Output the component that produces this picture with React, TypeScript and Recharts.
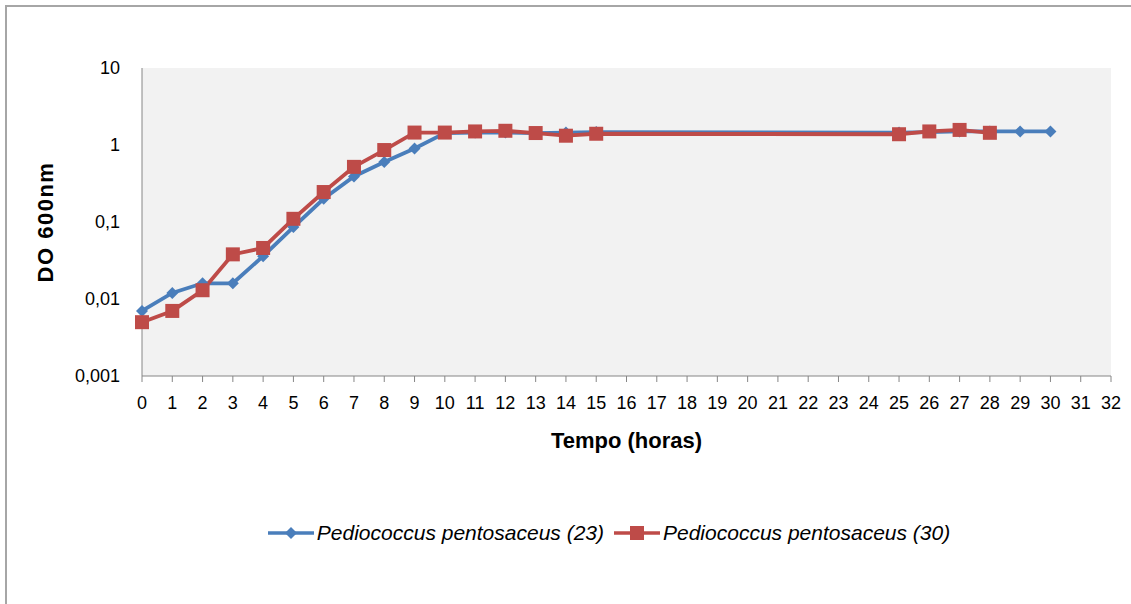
import { LineChart, Line, XAxis, YAxis, CartesianGrid } from 'recharts';

const hours = [0, 1, 2, 3, 4, 5, 6, 7, 8, 9, 10, 11, 12, 13, 14, 15, 25, 26, 27, 28, 29, 30];
const serie23 = [0.007, 0.012, 0.016, 0.016, 0.036, 0.086, 0.2, 0.39, 0.6, 0.9, 1.43, 1.45, 1.45, 1.43, 1.45, 1.47, 1.45, 1.47, 1.5, 1.5, 1.5, 1.5];
const serie30 = [0.005, 0.007, 0.013, 0.038, 0.046, 0.11, 0.245, 0.52, 0.86, 1.45, 1.45, 1.5, 1.53, 1.43, 1.32, 1.4, 1.38, 1.5, 1.57, 1.44, null, null];
const xTicks = [0, 1, 2, 3, 4, 5, 6, 7, 8, 9, 10, 11, 12, 13, 14, 15, 16, 17, 18, 19, 20, 21, 22, 23, 24, 25, 26, 27, 28, 29, 30, 31, 32];
const yTicks = [0.001, 0.01, 0.1, 1, 10];
const names = ['Pediococcus pentosaceus (23)', 'Pediococcus pentosaceus (30)'];

const BLUE = '#4a7ebb';
const RED = '#be4b48';
const FONT = '"Liberation Sans", Arial, sans-serif';

const data = hours.map((h, i) => ({ t: h, a: serie23[i], b: serie30[i] }));

const Diamond = ({ cx, cy }: any) => {
  if (cx == null || cy == null) return null;
  const r = 6;
  return <path d={`M${cx},${cy - r}L${cx + r},${cy}L${cx},${cy + r}L${cx - r},${cy}Z`} fill={BLUE} />;
};

const Square = ({ cx, cy }: any) => {
  if (cx == null || cy == null) return null;
  return <rect x={cx - 7} y={cy - 7} width={14} height={14} fill={RED} />;
};

const LegendItem = ({ color, kind, label }: { color: string; kind: string; label: string }) => (
  <div style={{ display: 'flex', alignItems: 'center', marginRight: 10 }}>
    <svg width={46} height={20}>
      <line x1={0} y1={10} x2={46} y2={10} stroke={color} strokeWidth={3.5} />
      {kind === 'diamond'
        ? <path d="M23,4L29,10L23,16L17,10Z" fill={color} />
        : <rect x={16} y={3} width={14} height={14} fill={color} />}
    </svg>
    <span style={{ fontStyle: 'italic', fontSize: 21, marginLeft: 3 }}>{label}</span>
  </div>
);

export default function App() {
  return (
    <div style={{ position: 'absolute', left: 0, top: 0, width: 1131, height: 604, background: '#fff', fontFamily: FONT, overflow: 'hidden' }}>
      <div style={{ position: 'absolute', left: 5, top: 5, width: 1160, height: 640, border: '2px solid #a6a6a6' }} />
      <div style={{ position: 'absolute', left: 0, top: 0 }}>
        <LineChart width={1131} height={604} data={data} margin={{ top: 68, right: 20, left: 0, bottom: 156 }}>
          <CartesianGrid fill="#f2f2f2" horizontal={false} vertical={false} />
          <XAxis
            dataKey="t"
            type="number"
            domain={[0, 32]}
            ticks={xTicks}
            interval={0}
            height={72}
            stroke="#868686"
            tickSize={6}
            tickMargin={14}
            tick={{ fill: '#000', fontSize: 18, fontFamily: FONT }}
            label={{ value: 'Tempo (horas)', position: 'insideBottom', offset: 0, style: { fontWeight: 'bold', fontSize: 22, fill: '#000', fontFamily: FONT } }}
          />
          <YAxis
            type="number"
            scale="log"
            domain={[0.001, 10]}
            ticks={yTicks}
            allowDataOverflow
            width={142}
            stroke="#868686"
            tickLine={false}
            tickSize={6}
            tickMargin={16}
            tickFormatter={(v: number) => String(v).replace('.', ',')}
            tick={{ fill: '#000', fontSize: 18, fontFamily: FONT }}
            label={{ value: 'DO 600nm', angle: -90, position: 'insideLeft', offset: 45, style: { textAnchor: 'middle', fontWeight: 'bold', fontSize: 22, letterSpacing: 1.5, fill: '#000', fontFamily: FONT } }}
          />
          <Line type="linear" dataKey="a" name={names[0]} stroke={BLUE} strokeWidth={3.8} dot={<Diamond />} activeDot={false} connectNulls isAnimationActive={false} />
          <Line type="linear" dataKey="b" name={names[1]} stroke={RED} strokeWidth={3.8} dot={<Square />} activeDot={false} connectNulls isAnimationActive={false} />
        </LineChart>
      </div>
      <div style={{ position: 'absolute', left: 0, top: 521, width: 1131, display: 'flex', justifyContent: 'center' }}>
        <div style={{ display: 'flex', marginLeft: 97 }}>
          <LegendItem color={BLUE} kind="diamond" label={names[0]} />
          <LegendItem color={RED} kind="square" label={names[1]} />
        </div>
      </div>
    </div>
  );
}
